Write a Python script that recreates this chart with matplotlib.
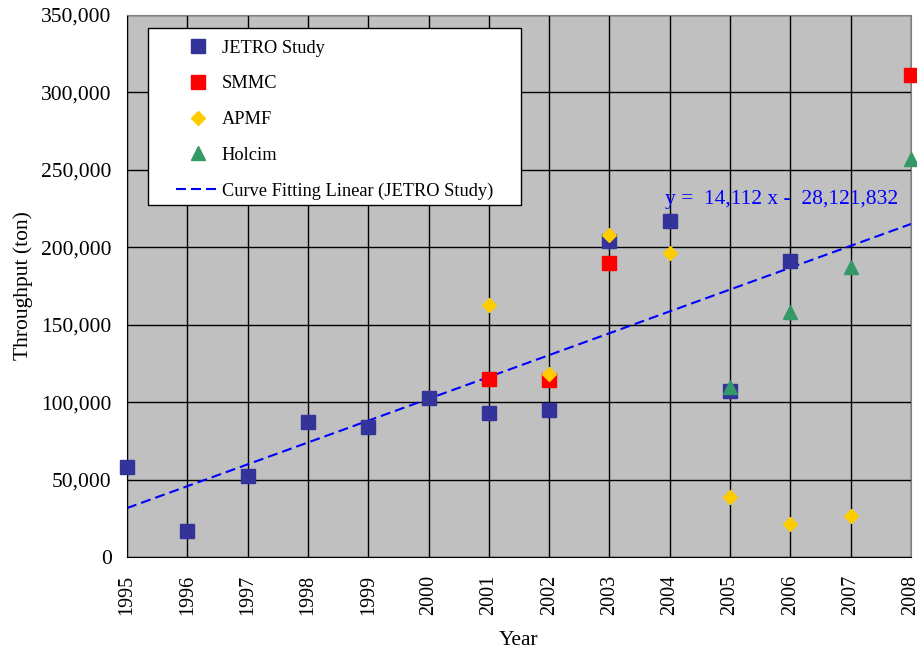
import matplotlib.pyplot as plt
from matplotlib.patches import Rectangle
import numpy as np

plt.rcParams['font.family'] = ['Liberation Serif', 'DejaVu Serif']

# Datos
jetro_years = [1995, 1996, 1997, 1998, 1999, 2000, 2001, 2002, 2003, 2004, 2005, 2006]
jetro_vals = [58000, 17000, 52000, 87000, 84000, 103000, 93000, 95000, 204000, 217000, 107000, 191000]

smmc_years = [2001, 2002, 2003, 2008]
smmc_vals = [115000, 114000, 190000, 311000]

apmf_years = [2001, 2002, 2003, 2004, 2005, 2006, 2007]
apmf_vals = [163000, 118000, 208000, 196000, 39000, 21000, 26500]

holcim_years = [2005, 2006, 2007, 2008]
holcim_vals = [110000, 158000, 187000, 257000]

# Ajuste lineal (JETRO Study)
slope = 14112
intercept = -28121832
fit_years = np.array([1995, 2008])

years = list(range(1995, 2009))
yticks = list(range(0, 350001, 50000))

fig = plt.figure(figsize=(9.17, 6.48), dpi=100)
ax = fig.add_axes([0.1385, 0.1404, 0.855, 0.8365])
ax.set_facecolor('#c0c0c0')

ax.plot(jetro_years, jetro_vals, 's', color='#333399', markersize=9.5, ls='none',
        label='JETRO Study', clip_on=False, zorder=3)
ax.plot(smmc_years, smmc_vals, 's', color='#ff0000', markersize=9.5, ls='none',
        label='SMMC', clip_on=False, zorder=3)
ax.plot(apmf_years, apmf_vals, 'D', color='#ffcc00', markersize=7.5, ls='none',
        label='APMF', clip_on=False, zorder=4)
ax.plot(holcim_years, holcim_vals, '^', color='#339966', markersize=10, ls='none',
        label='Holcim', clip_on=False, zorder=4)
ax.plot(fit_years, slope * fit_years + intercept, '--', color='#0000ff', lw=1.5,
        dashes=(4.8, 2.4), label='Curve Fitting Linear (JETRO Study)', zorder=2)

ax.text(2003.92, 231000, 'y =  14,112 x -  28,121,832', color='#0000ff',
        fontsize=15.5, va='center')

ax.set_xlim(1995, 2008)
ax.set_ylim(0, 350000)
ax.set_xticks(years)
ax.set_xticklabels([str(y) for y in years], rotation=90, fontsize=14.5)
ax.set_yticks(yticks)
ax.set_yticklabels(['0' if v == 0 else f'{v:,}' for v in yticks], fontsize=15.5)
ax.tick_params(axis='x', length=0, pad=13)
ax.tick_params(axis='y', length=0, pad=11)
ax.grid(True, color='black', lw=1)
ax.set_axisbelow(True)

for side in ['top', 'right']:
    ax.spines[side].set_color('#808080')
for side in ['left', 'bottom']:
    ax.spines[side].set_color('black')

ax.set_xlabel('Year', fontsize=15.5, labelpad=11)
ax.set_ylabel('Throughput (ton)', fontsize=15.5, labelpad=6)

# caja blanca de la leyenda
box = Rectangle((0.0268, 0.6494), 0.4758, 0.3266, transform=ax.transAxes,
                facecolor='white', edgecolor='black', lw=1, zorder=5)
ax.add_patch(box)

leg = ax.legend(loc='upper left', bbox_to_anchor=(0.0625, 0.9545), fontsize=13.2,
                frameon=False, labelspacing=1.02, handlelength=2.35,
                handletextpad=0.15, borderpad=0, borderaxespad=0)
leg.set_zorder(6)

fig.savefig('out.png', dpi=100)
